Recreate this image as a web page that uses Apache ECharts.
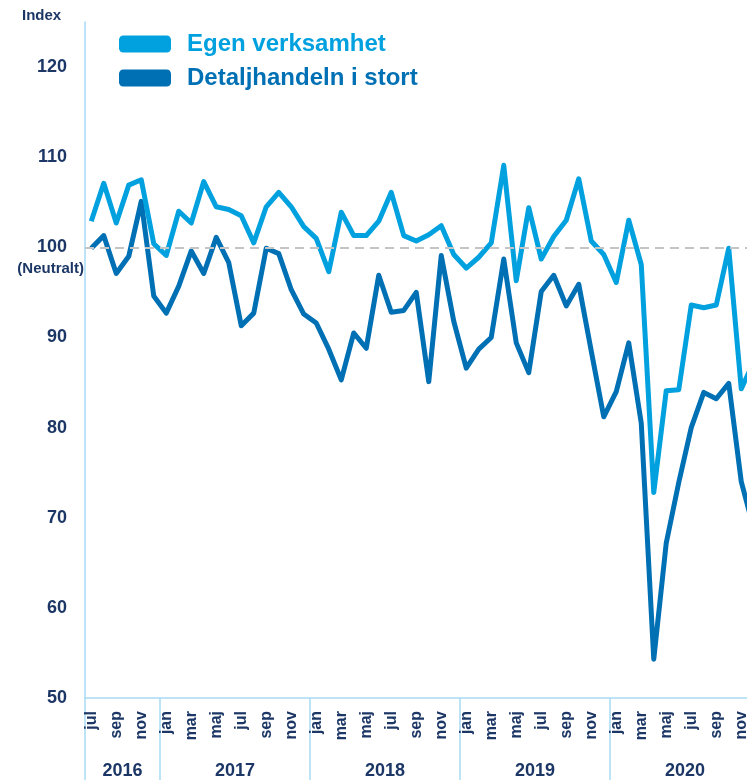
<!DOCTYPE html>
<html>
<head>
<meta charset="utf-8">
<script src="https://cdn.jsdelivr.net/npm/echarts@6/dist/echarts.min.js"></script>
<style>
  html, body { margin: 0; padding: 0; background: #fff; }
  #chart { width: 747px; height: 780px; }
</style>
</head>
<body>
<div id="chart"></div>
<script>
// months jul 2016 - dec 2020
const monthNames = ["jul", "aug", "sep", "okt", "nov", "dec",
  "jan", "feb", "mar", "apr", "maj", "jun", "jul", "aug", "sep", "okt", "nov", "dec",
  "jan", "feb", "mar", "apr", "maj", "jun", "jul", "aug", "sep", "okt", "nov", "dec",
  "jan", "feb", "mar", "apr", "maj", "jun", "jul", "aug", "sep", "okt", "nov", "dec",
  "jan", "feb", "mar", "apr", "maj", "jun", "jul", "aug", "sep", "okt", "nov", "dec"];
const months = monthNames.map((m, i) => m + "_" + i);

const egenVerksamhet = [102.9, 107.1, 102.7, 106.9, 107.5, 100.4,
  99.1, 104.0, 102.7, 107.3, 104.5, 104.2, 103.5, 100.5, 104.5, 106.1, 104.5, 102.3,
  101.0, 97.3, 103.9, 101.3, 101.3, 102.9, 106.1, 101.3, 100.7, 101.4, 102.4, 99.2,
  97.7, 98.9, 100.5, 109.1, 96.3, 104.4, 98.7, 101.2, 103.0, 107.6, 100.7, 99.2,
  96.1, 103.0, 98.1, 72.8, 84.1, 84.2, 93.6, 93.3, 93.6, 99.9, 84.3, 87.3];

const detaljhandeln = [99.9, 101.3, 97.1, 99.0, 105.1, 94.6,
  92.7, 95.7, 99.6, 97.1, 101.1, 98.3, 91.3, 92.7, 99.9, 99.3, 95.3, 92.6,
  91.6, 88.7, 85.3, 90.5, 88.8, 96.9, 92.8, 93.0, 95.0, 85.1, 99.1, 91.8,
  86.6, 88.7, 90.0, 98.7, 89.4, 86.1, 95.1, 96.9, 93.5, 95.9, 88.5, 81.2,
  84.0, 89.4, 80.5, 54.3, 67.2, 73.9, 80.0, 83.9, 83.2, 84.9, 74.0, 68.8];

const years = ["2016", "2017", "2018", "2019", "2020"];
const yearBounds = [0, 6, 18, 30, 42, 54]; // month index where each year starts
const yearMids = [3, 12, 24, 36, 48];

const navy = "#1c3766";
const lightBlue = "#00a1de";
const darkBlue = "#0070b5";
const axisBlue = "#a6daf4";
const font = "'Liberation Sans', Arial, sans-serif";

let chart = echarts.init(document.getElementById("chart"));
let option = {
  animation: false,
  title: {
    text: "Index",
    left: 22,
    top: 8,
    padding: 0,
    textStyle: { fontFamily: font, fontSize: 15, fontWeight: "bold", color: navy },
  },
  legend: {
    orient: "vertical",
    left: 119,
    top: 32,
    padding: 0,
    itemWidth: 52,
    itemHeight: 17,
    itemGap: 10,
    icon: "roundRect",
    data: [
      { name: "Egen verksamhet", textStyle: { color: lightBlue } },
      { name: "Detaljhandeln i stort", textStyle: { color: darkBlue } },
    ],
    textStyle: { fontFamily: font, fontSize: 24, fontWeight: "bold", padding: [0, 0, 0, 11] },
  },
  grid: { left: 85, top: 22, width: 675, bottom: 82, outerBoundsMode: "none", containLabel: false },
  xAxis: [
    {
      type: "category",
      position: "bottom",
      data: months,
      boundaryGap: true,
      axisLine: { show: true, lineStyle: { color: axisBlue, width: 1.5 } },
      axisTick: { show: false },
      axisLabel: {
        interval: 1,
        rotate: 90,
        margin: 13,
        fontFamily: font,
        fontSize: 16,
        fontWeight: "bold",
        color: navy,
        formatter: (v) => v.split("_")[0],
      },
      splitLine: { show: false },
    },
    {
      type: "value",
      position: "bottom",
      min: 0,
      max: 54,
      axisLine: { show: false },
      splitLine: { show: false },
      axisTick: {
        show: true,
        length: 82,
        customValues: yearBounds,
        lineStyle: { color: axisBlue, width: 1.5 },
      },
      axisLabel: {
        customValues: yearMids,
        margin: 64,
        fontFamily: font,
        fontSize: 18,
        fontWeight: "bold",
        color: navy,
        formatter: (v) => years[yearMids.indexOf(v)],
      },
    },
  ],
  yAxis: {
    type: "value",
    min: 50,
    max: 125,
    interval: 10,
    axisLine: { show: true, lineStyle: { color: axisBlue, width: 1.5 } },
    axisTick: { show: false },
    splitLine: { show: false },
    axisLabel: {
      margin: 1,
      showMaxLabel: false,
      formatter: (v) => (v === 100 ? "{e| }\n{a|100}\n{b|(Neutralt)}" : "{a|" + v + "}"),
      rich: {
        e: { fontSize: 12, lineHeight: 22 },
        a: { fontFamily: font, fontSize: 18, fontWeight: "bold", color: navy, lineHeight: 22, padding: [0, 17, 0, 0] },
        b: { fontFamily: font, fontSize: 15, fontWeight: "bold", color: navy, lineHeight: 22 },
      },
    },
  },
  series: [
    {
      name: "Egen verksamhet",
      type: "line",
      data: egenVerksamhet,
      showSymbol: false,
      itemStyle: { color: lightBlue },
      lineStyle: { color: lightBlue, width: 5, join: "round" },
      markLine: {
        silent: true,
        symbol: "none",
        label: { show: false },
        lineStyle: { color: "#c4c4c4", type: [9, 6], width: 2 },
        data: [{ yAxis: 100 }],
      },
      z: 3,
    },
    {
      name: "Detaljhandeln i stort",
      type: "line",
      data: detaljhandeln,
      showSymbol: false,
      itemStyle: { color: darkBlue },
      lineStyle: { color: darkBlue, width: 5, join: "round" },
      z: 2,
    },
  ],
};
chart.setOption(option);
window.onresize = chart.resize;
</script>
</body>
</html>
